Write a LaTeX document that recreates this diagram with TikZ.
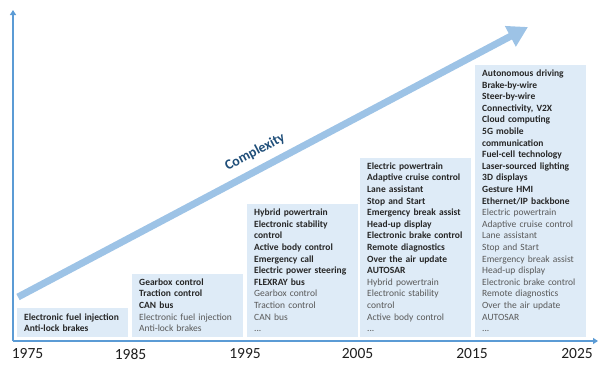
\documentclass[tikz,border=0pt]{standalone}
\usepackage{fontspec}
\setmainfont{Carlito}
\usepackage{tikz}
\usetikzlibrary{arrows.meta,positioning}
\usepackage{xcolor}

\definecolor{axisblue}{RGB}{91,155,213}
\definecolor{arrowblue}{RGB}{157,195,230}
\definecolor{boxblue}{RGB}{222,235,247}
\definecolor{complexblue}{RGB}{31,78,121}
\definecolor{boldgray}{RGB}{38,38,38}
\definecolor{oldgray}{RGB}{89,89,89}
\definecolor{yeargray}{RGB}{30,30,30}

% switch to the features of the previous decade
\newcommand{\oldfeat}{\mdseries\color{oldgray}}

\begin{document}
\begin{tikzpicture}[x=1pt, y=-1pt]

  \useasboundingbox (0,0) rectangle (608,370);

  % Define styles for decades, years and axes
  \tikzstyle{era} = [rectangle, fill=boxblue, anchor=south west, text width=97pt, inner xsep=7pt, inner ysep=5pt, align=left, text=boldgray, font=\fontsize{9.5}{11.6}\selectfont\bfseries]
  \tikzstyle{year} = [text=yeargray, font=\fontsize{15.5}{18}\selectfont]
  \tikzstyle{axis} = [draw=axisblue, line width=1.6pt, -{Triangle[length=5pt,width=6pt]}]

  % Axes
  \coordinate (origin) at (13,341);
  \coordinate (ytop) at (13,10);
  \coordinate (xend) at (598,341);
  \draw[axis] (origin) -- (ytop);
  \draw[axis] (origin) -- (xend);

  % Complexity arrow
  \coordinate (cstart) at (18,297);
  \coordinate (cend) at (528,27);
  \draw[draw=arrowblue, line width=7pt, -{Triangle[length=20pt,width=22pt]}] (cstart) -- (cend);
  \node[text=complexblue, rotate=28, font=\fontsize{14}{17}\selectfont\bfseries] (complexity) at (255,152) {Complexity};

  % Years
  \node[year] (y1975) at (27.5,354) {1975};
  \node[year] (y1985) at (130.5,354) {1985};
  \node[year] (y1995) at (245,354) {1995};
  \node[year] (y2005) at (357.5,354) {2005};
  \node[year] (y2015) at (472,354) {2015};
  \node[year] (y2025) at (577,354) {2025};

  % Decades
  \node[era] (era1975) at (17,337) {Electronic fuel injection\\Anti-lock brakes};
  \node[era] (era1985) at (132,337) {Gearbox control\\Traction control\\CAN bus\\
    \oldfeat Electronic fuel injection\\Anti-lock brakes};
  \node[era] (era1995) at (247,337) {Hybrid powertrain\\Electronic stability\\control\\Active body control\\Emergency call\\Electric power steering\\FLEXRAY bus\\
    \oldfeat Gearbox control\\Traction control\\CAN bus\\...};
  \node[era] (era2005) at (360,337) {Electric powertrain\\Adaptive cruise control\\Lane assistant\\Stop and Start\\Emergency break assist\\Head-up display\\Electronic brake control\\Remote diagnostics\\Over the air update\\AUTOSAR\\
    \oldfeat Hybrid powertrain\\Electronic stability\\control\\Active body control\\...};
  \node[era] (era2015) at (475,337) {Autonomous driving\\Brake-by-wire\\Steer-by-wire\\Connectivity, V2X\\Cloud computing\\5G mobile\\communication\\Fuel-cell technology\\Laser-sourced lighting\\3D displays\\Gesture HMI\\Ethernet/IP backbone\\
    \oldfeat Electric powertrain\\Adaptive cruise control\\Lane assistant\\Stop and Start\\Emergency break assist\\Head-up display\\Electronic brake control\\Remote diagnostics\\Over the air update\\AUTOSAR\\...};

\end{tikzpicture}
\end{document}
